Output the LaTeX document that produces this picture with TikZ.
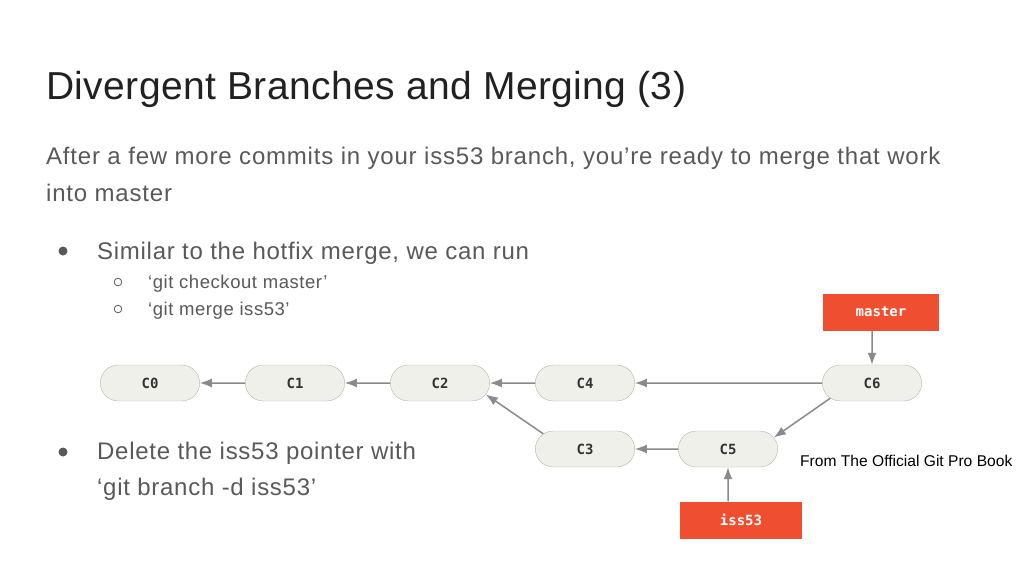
\documentclass[tikz,border=0pt]{standalone}
\usepackage{fontspec}
\setmainfont{Liberation Sans}
\setmonofont{DejaVu Sans Mono}
\usetikzlibrary{arrows.meta, calc, positioning, shapes.misc}
\definecolor{gitred}{HTML}{F04E30}
\definecolor{commitfill}{HTML}{F0F0EB}
\definecolor{commitline}{HTML}{B5B5B0}
\definecolor{ptrgray}{HTML}{8A8A8A}
\definecolor{bodygray}{HTML}{595959}
\newcommand{\slidefont}[2]{\addfontfeatures{LetterSpace=#1}\fontsize{#2}{#2}\selectfont}
\tikzset{ commit/.style = {draw=commitline, fill=commitfill, rounded rectangle, minimum width=106pt, minimum height=36pt, font=\ttfamily\bfseries\fontsize{14}{14}\selectfont, text=black!80} }
\tikzset{ branch/.style = {fill=gitred, minimum height=37pt, inner sep=0pt, font=\ttfamily\bfseries\fontsize{14}{14}\selectfont, text=white} }
\tikzset{ ptr/.style = {draw=ptrgray, line width=1.5pt, -{Latex[length=12pt, width=9pt]}} }
\tikzset{ body/.style = {anchor=base west, inner sep=0pt, text=bodygray} }

\begin{document}
\begin{tikzpicture}[x=1pt, y=-1pt]
  \useasboundingbox[fill=white] (0,0) rectangle (1024,576);

  % slide text
  \node[body, text=black!87, font={\slidefont{1}{39}}] (title) at (46,99) {Divergent Branches and Merging (3)};
  \node[body, font={\slidefont{3.3}{24}}] (intro1) at (46,164) {After a few more commits in your iss53 branch, you’re ready to merge that work};
  \node[body, font={\slidefont{3.3}{24}}] (intro2) at (46,201) {into master};
  \node[body, font={\slidefont{3}{24}}] (similar) at (97,259) {Similar to the hotfix merge, we can run};
  \node[body, font={\slidefont{3}{18.5}}] (checkout) at (148,288) {‘git checkout master’};
  \node[body, font={\slidefont{3}{18.5}}] (merge) at (148,315) {‘git merge iss53’};
  \node[body, font={\slidefont{3}{24}}] (delete1) at (97,459) {Delete the iss53 pointer with};
  \node[body, font={\slidefont{3}{24}}] (delete2) at (97,495) {‘git branch -d iss53’};
  \node[body, text=black, font=\fontsize{15.6}{15.6}\selectfont] (source) at (800,466) {From The Official Git Pro Book};

  \fill[bodygray] (63,452) circle (4.5);
  \fill[bodygray] (63,251) circle (4.5);
  \draw[bodygray, line width=0.8pt] (118,282) circle (3.8) (118,309) circle (3.8);

  % commit graph
  \path (150,383) node[commit] (c0) {C0}
      ++(145,0) node[commit] (c1) {C1}
      ++(145,0) node[commit] (c2) {C2}
      ++(145,0) node[commit] (c4) {C4}
      ++(287,0) node[commit] (c6) {C6};
  \path (585,449) node[commit] (c3) {C3}
      ++(143,0) node[commit] (c5) {C5};
  \node[branch, minimum width=116pt] (master) at (881,312) {master};
  \node[branch, minimum width=122pt] (iss53) at (741,520) {iss53};

  \draw[ptr] (c1) -- (c0);
  \draw[ptr] (c2) -- (c1);
  \draw[ptr] (c4) -- (c2);
  \draw[ptr] (c6) -- (c4);
  \draw[ptr] (c3.160) -- (c2.-14);
  \draw[ptr] (c5) -- (c3);
  \draw[ptr] (c6.-160) -- (c5.14);
  \draw[ptr] (master.south -| c6) -- (c6);
  \draw[ptr] (iss53.north -| c5) -- (c5);
\end{tikzpicture}
\end{document}
